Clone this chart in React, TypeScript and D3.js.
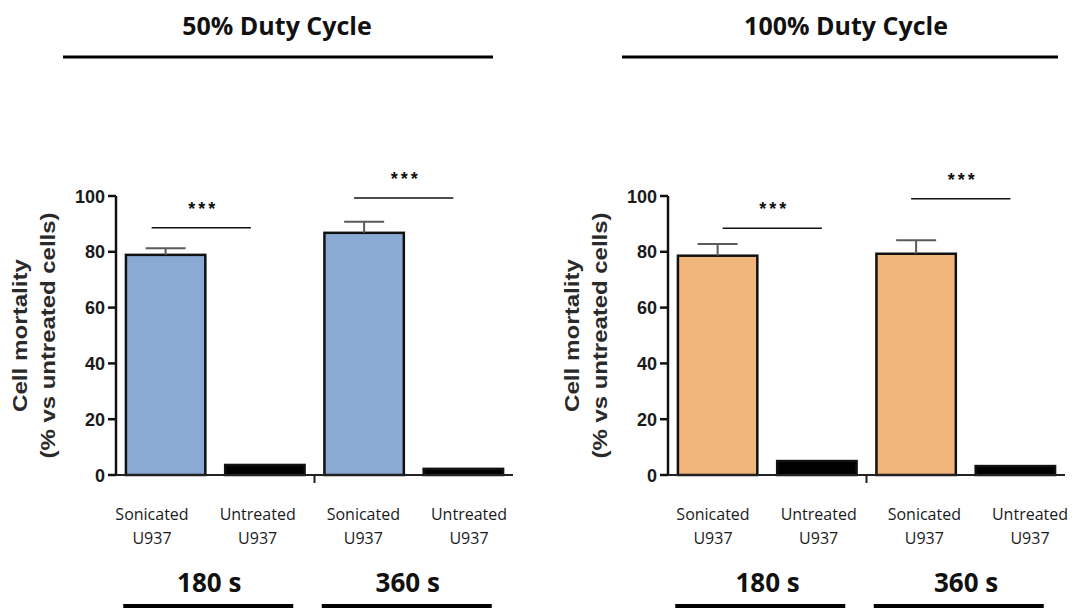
import React from "react";
import * as d3 from "d3";

const panelTitles = ["50% Duty Cycle", "100% Duty Cycle"];
const categoryTop = ["Sonicated", "Untreated", "Sonicated", "Untreated"];
const categoryBottom = ["U937", "U937", "U937", "U937"];
const timeGroups = ["180 s", "360 s"];
const mortality50 = [78.9, 3.6, 86.8, 2.2];
const sem50 = [2.4, 0, 4.0, 0];
const mortality100 = [78.6, 5.0, 79.3, 3.2];
const sem100 = [4.2, 0, 4.8, 0];
const sigLevels50 = [88.6, 99.3];
const sigLevels100 = [88.4, 99.0];
const yTicks = [0, 20, 40, 60, 80, 100];
const sigLabel = "***";

const W = 1078;
const H = 608;

type PanelProps = {
  x0: number;
  values: number[];
  sems: number[];
  sig: number[];
  fill: string;
  title: string;
  titleDx: number;
  ruleLeft: number;
  ruleRight: number;
  labelDx: number;
  sigDx: number[];
};

const Panel = ({ x0, values, sems, sig, fill, title, titleDx, ruleLeft, ruleRight, labelDx, sigDx }: PanelProps) => {
  const axisX = x0;
  const y = d3.scaleLinear().domain([0, 100]).range([475, 196]);
  const x = d3
    .scaleBand<number>()
    .domain(values.map((_, i) => i))
    .range([axisX, axisX + 397])
    .paddingInner(0.2)
    .paddingOuter(0.1);
  const bw = x.bandwidth();
  const cx = (i: number) => (x(i) as number) + bw / 2;
  const labelX = d3
    .scalePoint<number>()
    .domain(values.map((_, i) => i))
    .range([axisX + 36 + labelDx, axisX + 353 + labelDx]);
  const sepX = ((x(1) as number) + bw + (x(2) as number)) / 2;
  const groupCenter = (g: number) =>
    ((x(g * 2) as number) + (x(g * 2 + 1) as number) + bw) / 2;
  const labelFont = "'Open Sans', sans-serif";
  const axisFont = "'Liberation Sans', Arial, sans-serif";

  return (
    <g>
      {/* title */}
      <text
        x={axisX + 161 + titleDx}
        y={35}
        textAnchor="middle"
        fontFamily={labelFont}
        fontWeight="bold"
        fontSize={25}
        fill="#111"
      >
        {title}
      </text>
      <line x1={axisX + ruleLeft} x2={axisX + ruleRight} y1={57} y2={57} stroke="#000" strokeWidth={3} />

      {/* y axis label */}
      <g transform={`translate(${axisX - 89},${(y(0) + y(100)) / 2}) rotate(-90)`}>
        <text
          x={0}
          y={0}
          textAnchor="middle"
          fontFamily={axisFont}
          fontWeight="bold"
          fontSize={20}
          fill="#2a2a2a"
          textLength={153}
          lengthAdjust="spacingAndGlyphs"
        >
          Cell mortality
        </text>
        <text
          x={0}
          y={28}
          textAnchor="middle"
          fontFamily={axisFont}
          fontWeight="bold"
          fontSize={20}
          fill="#2a2a2a"
          textLength={246}
          lengthAdjust="spacingAndGlyphs"
        >
          (% vs untreated cells)
        </text>
      </g>

      {/* y axis */}
      <line x1={axisX} x2={axisX} y1={y(100)} y2={y(0)} stroke="#111" strokeWidth={2.5} />
      {yTicks.map((t) => (
        <g key={t}>
          <line x1={axisX - 8} x2={axisX} y1={y(t)} y2={y(t)} stroke="#111" strokeWidth={2.5} />
          <text
            x={axisX - 11}
            y={y(t) + 6.5}
            textAnchor="end"
            fontFamily={axisFont}
            fontWeight="bold"
            fontSize={18}
            fill="#1a1a1a"
          >
            {t}
          </text>
        </g>
      ))}

      {/* bars */}
      {values.map((v, i) => (
        <rect
          key={i}
          x={x(i) as number}
          y={y(v)}
          width={bw}
          height={y(0) - y(v)}
          fill={i % 2 === 0 ? fill : "#000"}
          stroke="#111"
          strokeWidth={2.5}
        />
      ))}

      {/* error bars */}
      {values.map((v, i) =>
        sems[i] > 0 ? (
          <g key={i} stroke="#5a5a5a" strokeWidth={2}>
            <line x1={cx(i)} x2={cx(i)} y1={y(v)} y2={y(v + sems[i])} />
            <line x1={cx(i) - 20} x2={cx(i) + 20} y1={y(v + sems[i])} y2={y(v + sems[i])} />
          </g>
        ) : null
      )}

      {/* x axis */}
      <line x1={axisX} x2={axisX + 397} y1={y(0)} y2={y(0)} stroke="#222" strokeWidth={2} />
      <line x1={sepX} x2={sepX} y1={y(0)} y2={y(0) + 8} stroke="#222" strokeWidth={2} />

      {/* significance */}
      {sig.map((s, g) => {
        const a = cx(g * 2) + sigDx[g];
        const b = cx(g * 2 + 1) + sigDx[g];
        return (
          <g key={g}>
            <line x1={a} x2={b} y1={y(s)} y2={y(s)} stroke="#111" strokeWidth={1.5} />
            <text
              x={(a + b) / 2 + 2}
              y={y(s) - 23 + 10}
              textAnchor="middle"
              fontFamily={axisFont}
              fontWeight="bold"
              fontSize={18}
              letterSpacing={3}
              fill="#111"
            >
              {sigLabel}
            </text>
          </g>
        );
      })}

      {/* category labels */}
      {values.map((_, i) => (
        <g key={i}>
          <text
            x={labelX(i) as number}
            y={520}
            textAnchor="middle"
            fontFamily={labelFont}
            fontSize={16}
            fill="#1a1a1a"
          >
            {categoryTop[i]}
          </text>
          <text
            x={labelX(i) as number}
            y={544}
            textAnchor="middle"
            fontFamily={labelFont}
            fontSize={16}
            fill="#1a1a1a"
          >
            {categoryBottom[i]}
          </text>
        </g>
      ))}

      {/* time groups */}
      {timeGroups.map((g, gi) => (
        <g key={g}>
          <text
            x={groupCenter(gi) - 6 + labelDx * 0.7}
            y={592}
            textAnchor="middle"
            fontFamily={labelFont}
            fontWeight="bold"
            fontSize={26}
            fill="#111"
          >
            {g}
          </text>
          <line
            x1={groupCenter(gi) - 92}
            x2={groupCenter(gi) + 78}
            y1={606}
            y2={606}
            stroke="#000"
            strokeWidth={4}
          />
        </g>
      ))}
    </g>
  );
};

export default function App() {
  return (
    <svg
      width={W}
      height={H}
      style={{ position: "absolute", left: 0, top: 0, background: "#fff" }}
    >
      <rect width={W} height={H} fill="#fff" />
      <Panel
        x0={116}
        values={mortality50}
        sems={sem50}
        sig={sigLevels50}
        fill="#8AAAD3"
        title={panelTitles[0]}
        titleDx={0}
        ruleLeft={-53}
        ruleRight={377}
        labelDx={0}
        sigDx={[-14, -10]}
      />
      <Panel
        x0={668}
        values={mortality100}
        sems={sem100}
        sig={sigLevels100}
        fill="#F0B67C"
        title={panelTitles[1]}
        titleDx={17}
        ruleLeft={-46}
        ruleRight={390}
        labelDx={9}
        sigDx={[5, -5]}
      />
    </svg>
  );
}
